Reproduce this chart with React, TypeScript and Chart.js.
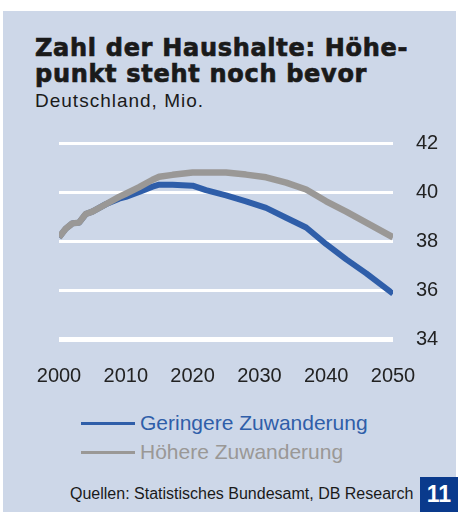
import React, { useEffect, useRef } from "react";
import { Chart, registerables } from "chart.js";

Chart.register(...registerables);

// ---- data ----
const years = [2000, 2001, 2002, 2003, 2004, 2005, 2007, 2009, 2010, 2012, 2014, 2015, 2017, 2020, 2022, 2025, 2028, 2031, 2034, 2037, 2040, 2043, 2046, 2050];
const geringereZuwanderung = [38.15, 38.5, 38.72, 38.75, 39.1, 39.2, 39.5, 39.73, 39.8, 40.0, 40.22, 40.3, 40.3, 40.26, 40.08, 39.86, 39.62, 39.35, 38.95, 38.55, 37.87, 37.25, 36.68, 35.85];
const hoehereZuwanderung = [38.15, 38.5, 38.72, 38.75, 39.1, 39.2, 39.5, 39.8, 39.93, 40.2, 40.5, 40.62, 40.7, 40.8, 40.8, 40.8, 40.71, 40.6, 40.38, 40.1, 39.62, 39.2, 38.75, 38.15];
const seriesLabels = ["Geringere Zuwanderung", "Höhere Zuwanderung"];
const xTickLabels = [2000, 2010, 2020, 2030, 2040, 2050];
const yTickLabels = [34, 36, 38, 40, 42];

const titleLines = ["Zahl der Haushalte: Höhe-", "punkt steht noch bevor"];
const subtitle = "Deutschland, Mio.";
const sourceText = "Quellen: Statistisches Bundesamt, DB Research";
const pageNumber = "11";

const BLUE = "#2f5ea9";
const GREY = "#9a9896";
const PANEL = "#cdd7e8";
const FONT = "'Liberation Sans', Arial, sans-serif";

const seriesColors = [BLUE, GREY];

export default function App() {
  const canvasRef = useRef<HTMLCanvasElement | null>(null);

  useEffect(() => {
    if (!canvasRef.current) return;
    const chart = new Chart(canvasRef.current, {
      type: "line",
      data: {
        datasets: [
          {
            label: seriesLabels[0],
            data: years.map((x, i) => ({ x, y: geringereZuwanderung[i] })),
            borderColor: BLUE,
            borderWidth: 6,
            pointRadius: 0,
            tension: 0,
            order: 1,
            borderJoinStyle: "round",
          },
          {
            label: seriesLabels[1],
            data: years.map((x, i) => ({ x, y: hoehereZuwanderung[i] })),
            borderColor: GREY,
            borderWidth: 6.5,
            pointRadius: 0,
            tension: 0,
            order: 0,
            borderJoinStyle: "round",
          },
        ],
      },
      options: {
        responsive: false,
        animation: false,
        devicePixelRatio: 1,
        layout: { padding: { left: 59, top: 23, right: 0, bottom: 0 } },
        plugins: {
          legend: { display: false },
          tooltip: { enabled: false },
          title: { display: false },
        },
        scales: {
          x: {
            type: "linear",
            position: "bottom",
            min: 2000,
            max: 2050,
            afterBuildTicks: (s: any) => {
              s.ticks = xTickLabels.map((v) => ({ value: v }));
            },
            afterFit: (s: any) => {
              s.height = 61;
              s.paddingLeft = 0;
              s.paddingRight = 0;
            },
            grid: { display: false, drawTicks: false },
            border: { display: false },
            ticks: {
              padding: 25,
              color: "#222",
              font: { family: FONT, size: 20 },
              maxRotation: 0,
              autoSkip: false,
              callback: (v: any) => String(v),
            },
          },
          y: {
            type: "linear",
            position: "right",
            min: 34,
            max: 42,
            afterBuildTicks: (s: any) => {
              s.ticks = yTickLabels.map((v) => ({ value: v }));
            },
            afterFit: (s: any) => {
              s.width = 65;
              s.paddingTop = 0;
              s.paddingBottom = 0;
            },
            grid: {
              color: "#ffffff",
              lineWidth: (ctx: any) => (ctx.tick && ctx.tick.value === 34 ? 5 : 3),
              drawTicks: false,
            },
            border: { display: false },
            ticks: {
              padding: 23,
              color: "#222",
              font: { family: FONT, size: 20 },
              callback: (v: any) => String(v),
            },
          },
        },
      },
    });
    return () => chart.destroy();
  }, []);

  return (
    <div style={{ position: "absolute", left: 0, top: 0, width: 458, height: 512, background: "#fff", overflow: "hidden" }}>
      <div style={{ position: "absolute", left: 3, top: 11, width: 453, height: 501, background: PANEL }} />
      <div
        style={{
          position: "absolute",
          left: 35,
          top: 35,
          fontFamily: "'DejaVu Sans', sans-serif",
          fontWeight: 700,
          fontSize: 24,
          lineHeight: "26px",
          letterSpacing: "0.7px",
          color: "#1a1a1a",
          whiteSpace: "nowrap",
          WebkitTextStroke: "0.7px #1a1a1a",
        }}
      >
        {titleLines.map((t, i) => (
          <div key={i}>{t}</div>
        ))}
      </div>
      <div
        style={{
          position: "absolute",
          left: 35,
          top: 90,
          fontFamily: FONT,
          fontSize: 19,
          lineHeight: "21px",
          letterSpacing: "1px",
          color: "#1a1a1a",
          whiteSpace: "nowrap",
        }}
      >
        {subtitle}
      </div>
      <canvas
        ref={canvasRef}
        width={458}
        height={280}
        style={{ position: "absolute", left: 0, top: 120, width: 458, height: 280 }}
      />
      {seriesLabels.map((lab, i) => (
        <div
          key={lab}
          style={{
            position: "absolute",
            left: 81,
            top: 411 + i * 29,
            height: 24,
            display: "flex",
            alignItems: "center",
            whiteSpace: "nowrap",
          }}
        >
          <div style={{ width: 54, height: 3, background: seriesColors[i], marginRight: 5 }} />
          <span style={{ fontFamily: FONT, fontSize: 21, color: seriesColors[i] }}>{lab}</span>
        </div>
      ))}
      <div
        style={{
          position: "absolute",
          left: 70,
          top: 485,
          fontFamily: FONT,
          fontSize: 16,
          lineHeight: "18px",
          color: "#1a1a1a",
          whiteSpace: "nowrap",
        }}
      >
        {sourceText}
      </div>
      <div
        style={{
          position: "absolute",
          left: 420,
          top: 477,
          width: 38,
          height: 35,
          background: "#0a3a8c",
          color: "#fff",
          fontFamily: FONT,
          fontWeight: 700,
          fontSize: 23,
          display: "flex",
          alignItems: "center",
          justifyContent: "center",
        }}
      >
        {pageNumber}
      </div>
    </div>
  );
}
